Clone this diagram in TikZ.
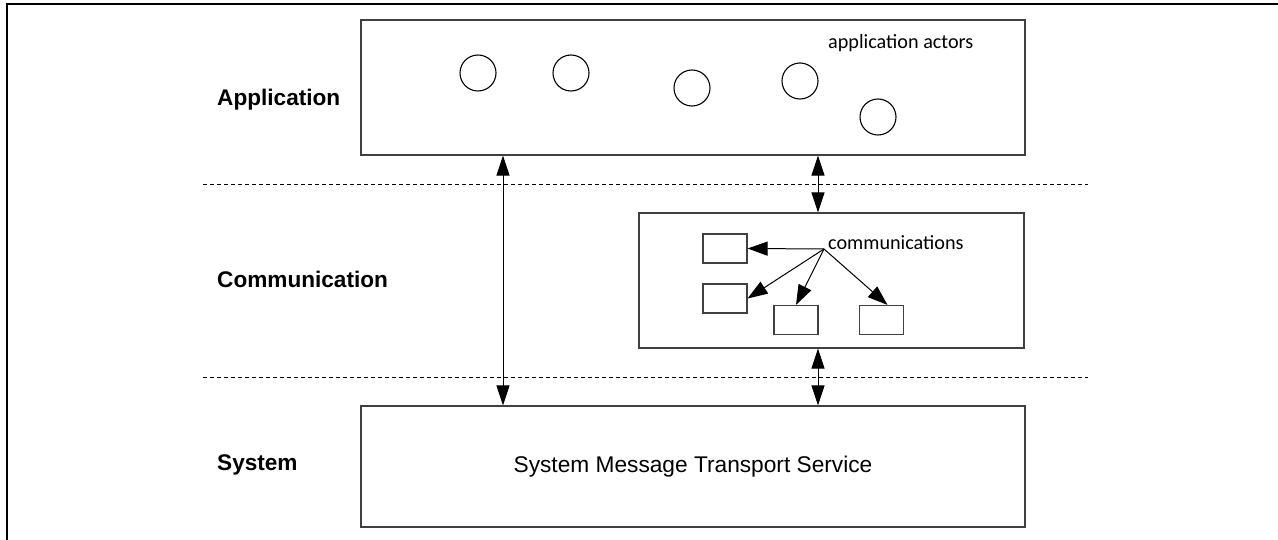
\documentclass[tikz,border=0pt]{standalone}
\usepackage{fontspec}
\setmainfont{Liberation Sans}
\newfontfamily\calibri{Carlito}
\usetikzlibrary{arrows.meta}

\begin{document}
\begin{tikzpicture}[x=1pt,y=-1pt,inner sep=0pt,
  layer/.style={rectangle,draw=black!75,line width=1.2pt,minimum width=#1},
  chan/.style={rectangle,draw=black!75,line width=1.1pt,minimum width=44pt,minimum height=29pt},
  actor/.style={circle,draw=black,line width=1.1pt,minimum size=36pt},
  levellbl/.style={anchor=west,font=\fontsize{22.6}{26}\selectfont\bfseries},
  notelbl/.style={anchor=west,font=\calibri\fontsize{20.2}{23}\selectfont},
  sep/.style={line width=0.8pt,dash pattern=on 4pt off 3pt},
  link/.style={line width=1pt,{Triangle[length=20pt,width=13pt]}-{Triangle[length=20pt,width=13pt]}},
  fan/.style={line width=1pt,-{Triangle[length=20pt,width=14pt]}}]

\useasboundingbox (0,0) rectangle (1278,540);
\draw[line width=2pt] (7,560) -- (7,4) -- (1300,4);

\node[layer=664pt,minimum height=135pt] (app) at (693,87.5) {};
\node[layer=385pt,minimum height=135pt] (comm) at (831.5,280.5) {};
\node[layer=664pt,minimum height=121pt,font=\fontsize{22.7}{26}\selectfont] (sys) at (693,466.5) {System Message Transport Service};

\node[levellbl] (lapp) at (217,100) {Application};
\node[levellbl] (lcomm) at (217,279) {Communication};
\node[levellbl] (lsys) at (217,465) {System};

\draw[sep] (203,184) -- (1088,184);
\draw[sep] (203,377) -- (1088,377);

\node[notelbl] (actlbl) at (828,43) {application actors};
\node[actor] (a1) at (478,73) {};
\node[actor] (a2) at (571,73) {};
\node[actor] (a3) at (692,88) {};
\node[actor] (a4) at (800,81) {};
\node[actor] (a5) at (878,117) {};

\node[notelbl] (commlbl) at (828,243) {communications};
\coordinate (hub) at (824,249);
\node[chan] (b1) at (725,248.5) {};
\node[chan] (b2) at (725,298.5) {};
\node[chan] (b3) at (796,320) {};
\node[chan] (b4) at (881.5,320) {};

\draw[fan] (hub) -- (b1.east);
\draw[fan] (hub) -- (b2.east);
\draw[fan] (hub) -- (b3.north);
\draw[fan] (hub) -- ([xshift=6pt]b4.north);

\coordinate (la) at (503,0);
\coordinate (ra) at (818,0);
\draw[link] (app.south -| la) -- (sys.north -| la);
\draw[link] (app.south -| ra) -- (comm.north -| ra);
\draw[link] (comm.south -| ra) -- (sys.north -| ra);

\end{tikzpicture}
\end{document}
